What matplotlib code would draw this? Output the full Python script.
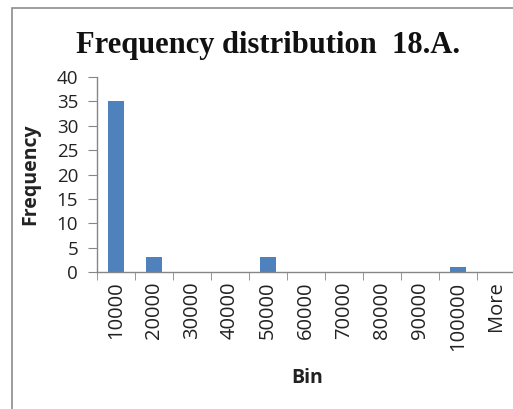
import matplotlib
matplotlib.use("Agg")
import matplotlib.pyplot as plt
from matplotlib.patches import Rectangle
import numpy as np

bins = ["10000", "20000", "30000", "40000", "50000", "60000",
        "70000", "80000", "90000", "100000", "More"]
frequency = [35, 3, 0, 0, 3, 0, 0, 0, 0, 1, 0]

fig = plt.figure(figsize=(5.13, 4.09), dpi=100)

# outer chart frame
fig.add_artist(Rectangle((12 / 513, -0.05), 1.2, (409 - 8) / 409 + 0.05,
                         transform=fig.transFigure, fill=False,
                         edgecolor="#8c8c8c", linewidth=1.2))

ax = fig.add_axes([97 / 513, (409 - 272) / 409, 418 / 513, (272 - 77) / 409])
x = np.arange(len(bins))
ax.bar(x, frequency, width=0.4, color="#4F81BD", zorder=2)

ax.set_xlim(-0.5, len(bins) - 0.5)
ax.set_ylim(0, 40)
ax.set_yticks(range(0, 41, 5))

for s in ["top", "right"]:
    ax.spines[s].set_visible(False)
for s in ["left", "bottom"]:
    ax.spines[s].set_color("#868686")
    ax.spines[s].set_linewidth(1.0)

label_font = "Open Sans"
ax.set_xticks(x)
ax.set_xticklabels(bins, rotation=90, fontsize=14.5, family=label_font,
                   color="#222222")
ax.tick_params(axis="x", length=0, pad=7)
ax.set_xticks(np.arange(-0.5, len(bins)), minor=True)
ax.tick_params(axis="x", which="minor", length=5.5, direction="out",
               color="#868686")
ax.tick_params(axis="y", length=6.5, direction="out", color="#868686",
               labelsize=13.5, labelcolor="#222222", pad=7)
for t in ax.get_yticklabels():
    t.set_family(label_font)

ax.set_ylabel("Frequency", fontsize=14, fontweight="bold", family=label_font,
              color="#222222")
ax.yaxis.set_label_coords(-0.136, 0.5)
ax.set_xlabel("Bin", fontsize=14, fontweight="bold", family=label_font,
              color="#222222")
ax.xaxis.set_label_coords(0.502, -0.49)

fig.text(268.5 / 513, 1 - 46 / 409, "Frequency distribution  18.A.",
         ha="center", va="center", fontsize=22, fontweight="bold",
         family="Liberation Serif", color="#111111")

fig.savefig("out.png", dpi=100)
